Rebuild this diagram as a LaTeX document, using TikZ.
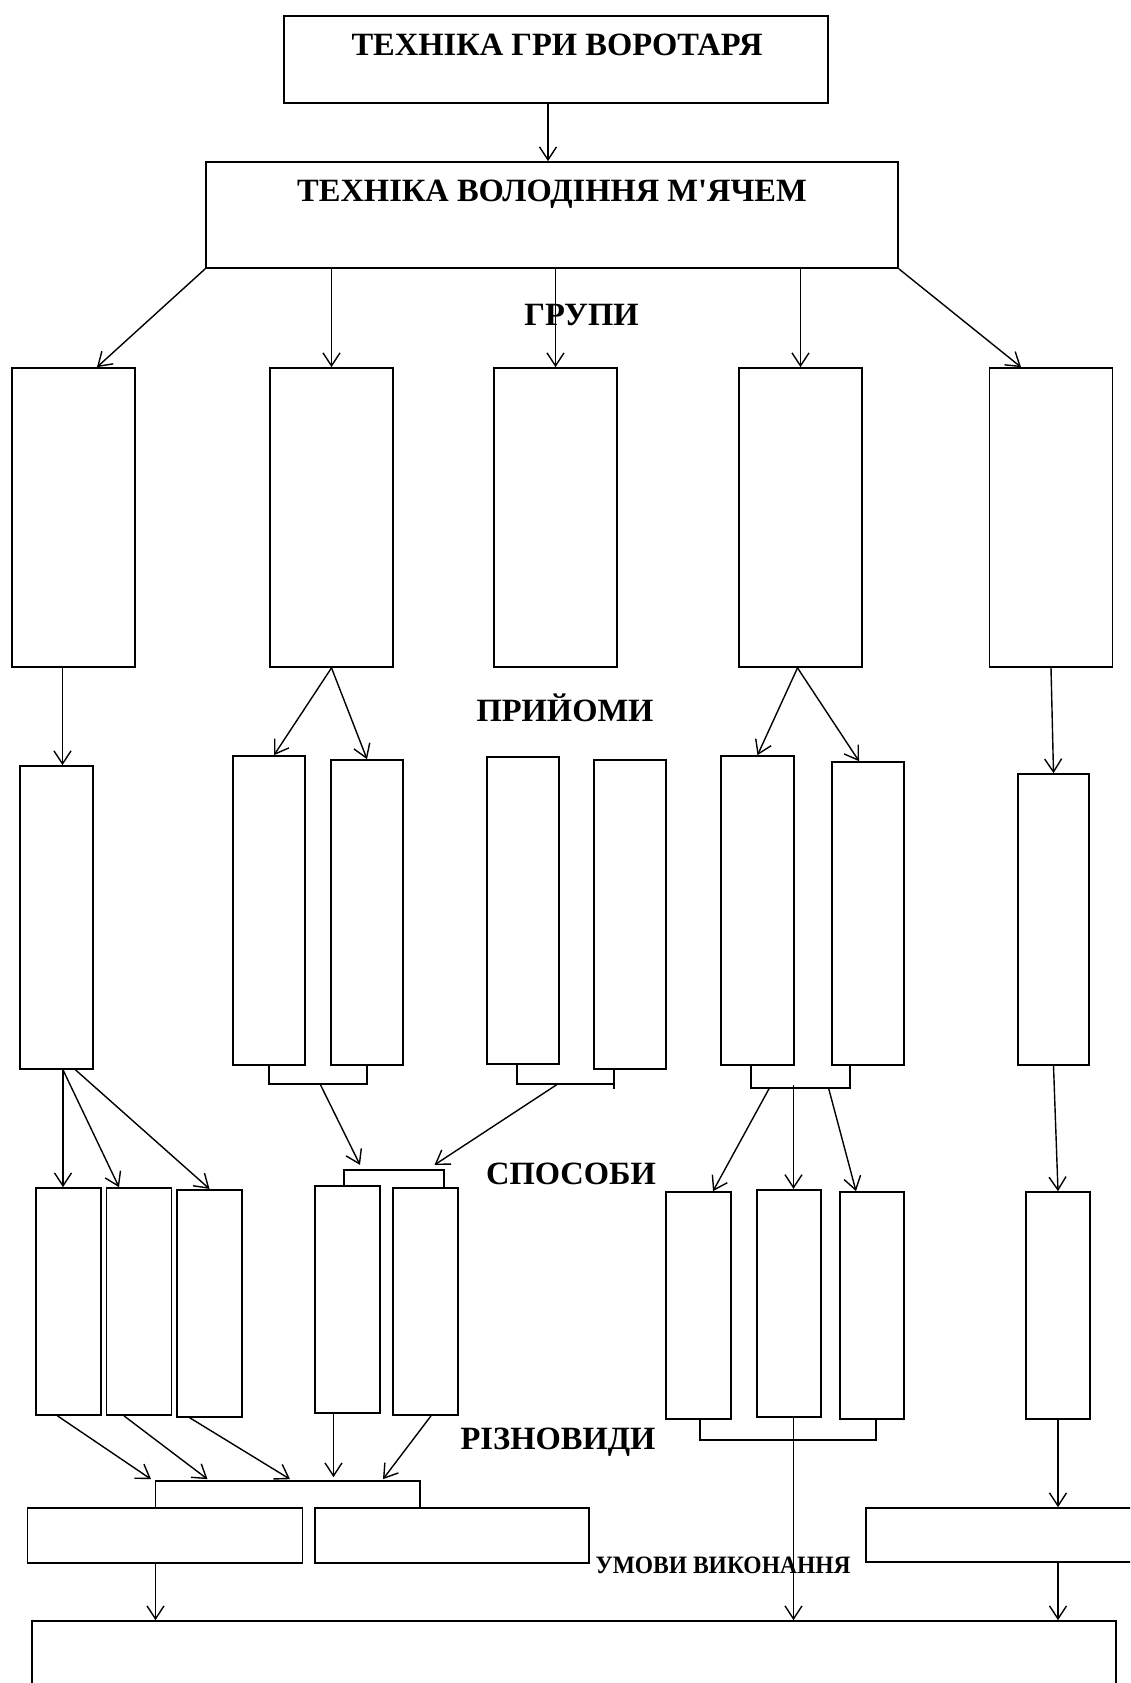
\documentclass[tikz,border=0pt]{standalone}
\usepackage{fontspec}
\setmainfont{Liberation Serif}[Ligatures=TeXOff]
\usepackage{graphicx}
\usetikzlibrary{arrows.meta, positioning}

\begin{document}
\begin{tikzpicture}[x=1pt, y=-1pt,
  cell/.style={draw, line width=1.7pt, inner sep=0pt},
  link/.style={line width=1.4pt, -{Straight Barb[length=13pt, width=17pt]}},
  pairline/.style={line width=1.6pt},
  heading/.style={font=\bfseries\fontsize{32.5}{34}\selectfont, anchor=base, inner sep=0pt},
  note/.style={font=\bfseries\fontsize{25}{27}\selectfont, anchor=base, inner sep=0pt}]

  % Frame
  \useasboundingbox (0,0) rectangle (1130,1683);
  \clip (0,0) rectangle (1130,1683);

  % Top boxes
  \node[cell, minimum width=544pt, minimum height=87pt] (tech) at (556,59.5) {};
  \node[heading] (techtxt) at (557,55.5) {ТЕХНІКА ГРИ ВОРОТАРЯ};
  \node[cell, minimum width=692pt, minimum height=106pt] (own) at (552,215) {};
  \node[heading] (owntxt) at (552,201.5) {ТЕХНІКА ВОЛОДІННЯ М'ЯЧЕМ};
  \draw[link] ([xshift=-8pt]tech.south) -- ([xshift=-4pt]own.north);

  % Groups
  \node[heading] (grptxt) at (581.5,325.5) {ГРУПИ};
  \node[cell, minimum width=123pt, minimum height=299pt] (grp1) at (73.5,517.5) {};
  \node[cell, minimum width=123pt, minimum height=299pt] (grp2) at (331.5,517.5) {};
  \node[cell, minimum width=123pt, minimum height=299pt] (grp3) at (555.5,517.5) {};
  \node[cell, minimum width=123pt, minimum height=299pt] (grp4) at (800.5,517.5) {};
  \node[cell, minimum width=123pt, minimum height=299pt] (grp5) at (1051,517.5) {};
  \draw[link] (own.south west) -- ([xshift=23.5pt]grp1.north);
  \draw[link] (own.south -| grp2.north) -- (grp2.north);
  \draw[link] (own.south -| grp3.north) -- (grp3.north);
  \draw[link] (own.south -| grp4.north) -- (grp4.north);
  \draw[link] (own.south east) -- ([xshift=-30pt]grp5.north);

  % Techniques
  \node[heading] (prmtxt) at (565,721.5) {ПРИЙОМИ};
  \node[cell, minimum width=73pt, minimum height=303pt] (prm1) at (56.5,917.5) {};
  \node[cell, minimum width=72pt, minimum height=309pt] (prm2) at (269,910.5) {};
  \node[cell, minimum width=72pt, minimum height=305pt] (prm3) at (367,912.5) {};
  \node[cell, minimum width=72pt, minimum height=307pt] (prm4) at (523,910.5) {};
  \node[cell, minimum width=72pt, minimum height=309pt] (prm5) at (630,914.5) {};
  \node[cell, minimum width=73pt, minimum height=309pt] (prm6) at (757.5,910.5) {};
  \node[cell, minimum width=72pt, minimum height=303pt] (prm7) at (868,913.5) {};
  \node[cell, minimum width=71pt, minimum height=291pt] (prm8) at (1053.5,919.5) {};
  \draw[link] ([xshift=-11pt]grp1.south) -- ([xshift=6pt]prm1.north);
  \draw[link] (grp2.south) -- ([xshift=5pt]prm2.north);
  \draw[link] (grp2.south) -- (prm3.north);
  \draw[link] ([xshift=-3pt]grp4.south) -- (prm6.north);
  \draw[link] ([xshift=-3pt]grp4.south) -- ([xshift=-9pt]prm7.north);
  \draw[link] (grp5.south) -- (prm8.north);

  % Pairs under techniques
  \draw[pairline] (prm2.south) -- ++(0,18) -- ++(51,0) coordinate (bc) -- ++(47,0) -- (prm3.south);
  \draw[pairline] ([xshift=-6pt]prm4.south) -- ++(0,19) -- ++(41,0) coordinate (de) -- ++(56,0);
  \draw[pairline] ([xshift=-16pt]prm5.south) -- ++(0,19);
  \draw[pairline] ([xshift=-6.5pt]prm6.south) -- ++(0,22) -- ++(18.5,0) coordinate (fg1)
    -- ++(24,0) coordinate (fg2) -- ++(35,0) coordinate (fg3) -- ++(21.5,0) -- ([xshift=-18pt]prm7.south);

  % Ways
  \node[heading] (waytxt) at (571,1184.5) {СПОСОБИ};
  \node[cell, minimum width=65pt, minimum height=227pt] (way1) at (68.5,1301.5) {};
  \node[cell, minimum width=65pt, minimum height=227pt] (way2) at (139,1301.5) {};
  \node[cell, minimum width=65pt, minimum height=227pt] (way3) at (209.5,1303.25) {};
  \node[cell, minimum width=65pt, minimum height=227pt] (way4) at (347.5,1299.25) {};
  \node[cell, minimum width=65pt, minimum height=227pt] (way5) at (425.5,1301.5) {};
  \node[cell, minimum width=65pt, minimum height=227pt] (way6) at (698.5,1305.5) {};
  \node[cell, minimum width=64pt, minimum height=227pt] (way7) at (789,1303.25) {};
  \node[cell, minimum width=64pt, minimum height=227pt] (way8) at (872,1305.5) {};
  \node[cell, minimum width=64pt, minimum height=227pt] (way9) at (1058,1305.5) {};
  \draw[link] ([xshift=6.5pt]prm1.south) -- ([xshift=-5.5pt]way1.north);
  \draw[link] ([xshift=6.5pt]prm1.south) -- ([xshift=-20pt]way2.north);
  \draw[link] ([xshift=19pt]prm1.south) -- (way3.north);
  \draw[pairline] ([xshift=-3.5pt]way4.north) -- ++(0,-15) -- ++(16,0) coordinate (sm1)
    -- ++(74.5,0) coordinate (sm2) -- ++(9.5,0) -- ([xshift=18.5pt]way5.north);
  \draw[link] (bc) -- ([yshift=5pt]sm1);
  \draw[link] (de) -- ([yshift=5pt]sm2);
  \draw[link] (fg1) -- ([xshift=14.5pt]way6.north);
  \draw[link] ([yshift=3pt]fg2) -- (fg2 |- way7.north);
  \draw[link] (fg3) -- ([xshift=-16pt]way8.north);
  \draw[link] (prm8.south) -- (way9.north);

  % Kinds
  \node[heading] (kindtxt) at (558,1449.5) {РІЗНОВИДИ};
  \node[cell, minimum width=275pt, minimum height=55pt] (kind1) at (165,1535.5) {};
  \node[cell, minimum width=274pt, minimum height=55pt] (kind2) at (452,1535.5) {};
  \node[cell, minimum width=279pt, minimum height=54pt] (kind3) at (1005.5,1535) {};
  \draw[pairline] ([xshift=-9.5pt]kind1.north) coordinate (kb) -- ++(0,-26) -| ([xshift=-32pt]kind2.north);
  \draw[link] ([xshift=-11pt]way1.south) -- ([xshift=-14pt, yshift=28pt]kind1.north);
  \draw[link] ([xshift=-15pt]way2.south) -- ([xshift=42.5pt, yshift=28pt]kind1.north);
  \draw[link] ([xshift=-20pt]way3.south) -- ([xshift=125pt, yshift=28pt]kind1.north);
  \draw[link] ([xshift=-14pt]way4.south) -- ([xshift=-118.5pt, yshift=30pt]kind2.north);
  \draw[link] ([xshift=5.5pt]way5.south) -- ([xshift=-69pt, yshift=28pt]kind2.north);
  \draw[pairline] ([xshift=1.5pt]way6.south) -- ++(0,20) -| ([xshift=4pt]way8.south);
  \draw[link] (way9.south) -- (way9.south |- kind3.north);

  % Conditions
  \node[note] (condtxt) at (723,1573) {\scalebox{0.94}[1]{УМОВИ ВИКОНАННЯ}};
  \node[cell, minimum width=1084pt, minimum height=99pt] (cond) at (574,1670.5) {};
  \draw[link] (kb |- kind1.south) -- (kb |- cond.north);
  \draw[link] (fg2 |- way7.south) -- (fg2 |- cond.north);
  \draw[link] (way9.south |- kind3.south) -- (way9.south |- cond.north);
\end{tikzpicture}
\end{document}
